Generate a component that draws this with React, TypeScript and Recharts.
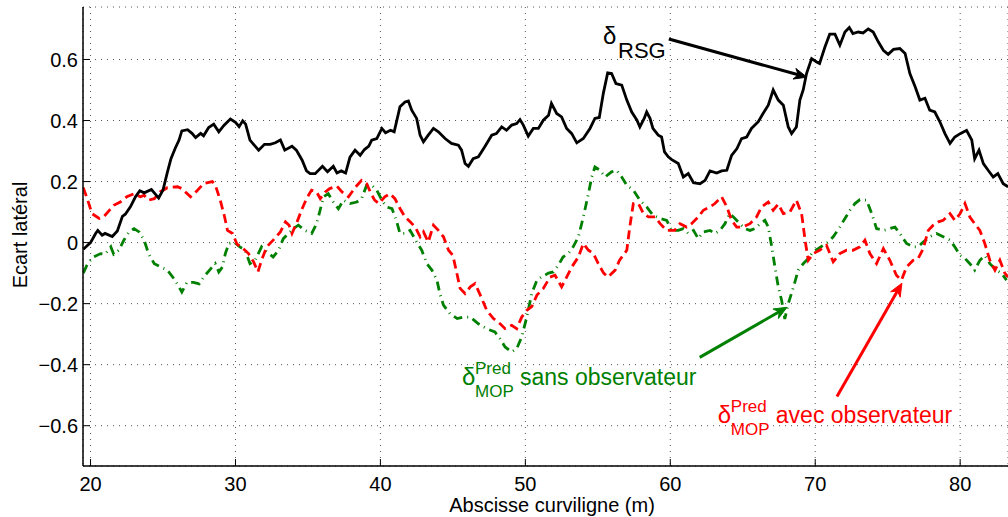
import React from "react";
import {
  LineChart,
  Line,
  XAxis,
  YAxis,
  CartesianGrid,
  ReferenceLine,
  ReferenceDot,
} from "recharts";

// abscisse curviligne (m), écart latéral (m)
const rsg: [number, number][] = [
  [19.5, -0.022], [20.0, 0.0], [20.35, 0.03], [20.5, 0.04], [20.8, 0.024], [21.0, 0.03],
  [21.5, 0.02], [21.85, 0.038], [22.2, 0.086], [22.4, 0.093], [22.75, 0.117], [23.1, 0.15],
  [23.4, 0.17], [23.7, 0.163], [24.2, 0.174], [24.4, 0.163], [24.7, 0.146], [25.0, 0.172],
  [25.3, 0.23], [25.55, 0.275], [25.85, 0.31], [26.1, 0.335], [26.3, 0.366], [26.7, 0.37],
  [27.0, 0.358], [27.25, 0.344], [27.6, 0.358], [27.8, 0.35], [28.15, 0.377], [28.5, 0.388],
  [28.85, 0.363], [29.2, 0.384], [29.65, 0.405], [30.0, 0.394], [30.25, 0.38], [30.5, 0.399],
  [30.7, 0.388], [31.0, 0.336], [31.25, 0.322], [31.6, 0.303], [32.0, 0.322], [32.4, 0.322],
  [32.75, 0.327], [33.1, 0.336], [33.4, 0.303], [33.9, 0.316], [34.2, 0.303], [34.6, 0.27],
  [34.9, 0.235], [35.15, 0.226], [35.5, 0.226], [36.0, 0.25], [36.35, 0.232], [36.75, 0.25],
  [37.0, 0.228], [37.3, 0.235], [37.6, 0.228], [37.9, 0.28], [38.25, 0.303], [38.6, 0.286],
  [38.9, 0.305], [39.2, 0.316], [39.4, 0.336], [39.75, 0.341], [40.1, 0.374], [40.35, 0.36],
  [40.7, 0.368], [40.95, 0.363], [41.35, 0.445], [41.7, 0.461], [41.93, 0.464], [42.16, 0.434],
  [42.5, 0.407], [42.74, 0.352], [42.97, 0.33], [43.3, 0.352], [43.66, 0.374], [44.0, 0.363],
  [44.46, 0.341], [44.9, 0.325], [45.38, 0.319], [45.6, 0.303], [45.84, 0.259], [46.07, 0.25],
  [46.4, 0.275], [46.76, 0.281], [47.2, 0.314], [47.68, 0.352], [48.0, 0.357], [48.37, 0.379],
  [48.7, 0.368], [49.06, 0.385], [49.4, 0.39], [49.63, 0.403], [49.86, 0.385], [50.2, 0.349],
  [50.55, 0.374], [50.9, 0.374], [51.24, 0.401], [51.6, 0.417], [51.8, 0.456], [52.16, 0.423],
  [52.5, 0.412], [52.85, 0.374], [53.2, 0.357], [53.55, 0.327], [54.0, 0.341], [54.46, 0.374],
  [54.8, 0.407], [55.1, 0.41], [55.38, 0.489], [55.68, 0.556], [55.95, 0.554], [56.25, 0.521],
  [56.65, 0.516], [57.0, 0.467], [57.34, 0.428], [57.7, 0.401], [57.9, 0.379], [58.2, 0.407],
  [58.37, 0.428], [58.6, 0.407], [58.8, 0.374], [59.17, 0.352], [59.4, 0.346], [59.6, 0.297],
  [59.86, 0.281], [60.1, 0.272], [60.55, 0.259], [60.9, 0.215], [61.24, 0.226], [61.6, 0.196],
  [62.05, 0.193], [62.4, 0.204], [62.74, 0.235], [63.2, 0.228], [63.54, 0.235], [63.9, 0.237],
  [64.23, 0.286], [64.6, 0.308], [64.92, 0.341], [65.27, 0.346], [65.6, 0.374], [66.07, 0.396],
  [66.4, 0.423], [66.76, 0.45], [67.1, 0.5], [67.45, 0.467], [67.8, 0.45], [68.14, 0.379],
  [68.37, 0.357], [68.7, 0.379], [68.94, 0.467], [69.17, 0.5], [69.4, 0.554], [69.75, 0.603],
  [70.1, 0.592], [70.3, 0.587], [70.67, 0.641], [71.0, 0.683], [71.36, 0.683], [71.7, 0.647],
  [72.05, 0.69], [72.35, 0.705], [72.6, 0.685], [72.97, 0.69], [73.3, 0.687], [73.66, 0.7],
  [74.0, 0.69], [74.35, 0.658], [74.7, 0.63], [75.03, 0.617], [75.4, 0.633], [75.84, 0.636],
  [76.2, 0.62], [76.53, 0.554], [76.9, 0.51], [77.22, 0.467], [77.57, 0.473], [77.9, 0.434],
  [78.25, 0.428], [78.6, 0.396], [78.95, 0.357], [79.3, 0.325], [79.63, 0.346], [80.0, 0.357],
  [80.44, 0.368], [80.8, 0.336], [81.0, 0.275], [81.3, 0.303], [81.6, 0.259], [81.93, 0.237],
  [82.28, 0.215], [82.6, 0.226], [82.97, 0.193], [83.3, 0.183],
];

const avecObs: [number, number][] = [
  [19.5, 0.18], [19.8, 0.14], [20.1, 0.095], [20.6, 0.079], [20.9, 0.084], [21.25, 0.103],
  [21.6, 0.122], [22.05, 0.133], [22.5, 0.15], [23.0, 0.16], [23.45, 0.15], [23.7, 0.155],
  [24.0, 0.139], [24.4, 0.144], [24.8, 0.166], [25.3, 0.18], [26.0, 0.183], [26.3, 0.177],
  [26.9, 0.15], [27.35, 0.17], [27.8, 0.193], [28.4, 0.2], [28.6, 0.19], [28.95, 0.139],
  [29.25, 0.084], [29.45, 0.04], [29.8, 0.03], [30.1, -0.005], [30.4, -0.014], [30.9, -0.036],
  [31.25, -0.063], [31.55, -0.096], [31.8, -0.058], [32.15, -0.014], [32.6, 0.008], [33.1, 0.035],
  [33.45, 0.068], [33.7, 0.057], [33.9, 0.03], [34.25, 0.068], [34.6, 0.111], [34.9, 0.144],
  [35.25, 0.172], [35.6, 0.166], [35.85, 0.144], [36.2, 0.166], [36.5, 0.177], [37.0, 0.185],
  [37.35, 0.166], [37.8, 0.15], [38.25, 0.18], [38.7, 0.204], [39.05, 0.193], [39.3, 0.166],
  [39.6, 0.139], [39.9, 0.128], [40.3, 0.15], [40.67, 0.16], [41.0, 0.144], [41.36, 0.111],
  [41.7, 0.084], [42.05, 0.068], [42.4, 0.051], [42.74, 0.019], [42.97, 0.035], [43.3, 0.002],
  [43.66, 0.057], [44.0, 0.04], [44.35, 0.019], [44.7, -0.025], [45.0, -0.042], [45.27, -0.1],
  [45.5, -0.15], [45.84, -0.167], [46.2, -0.145], [46.53, -0.134], [46.9, -0.173], [47.34, -0.222],
  [47.8, -0.249], [48.26, -0.266], [48.6, -0.282], [49.06, -0.271], [49.4, -0.282], [49.75, -0.244],
  [50.1, -0.222], [50.44, -0.21], [50.8, -0.172], [51.24, -0.15], [51.7, -0.113], [52.05, -0.107],
  [52.5, -0.145], [52.85, -0.113], [53.2, -0.08], [53.66, -0.047], [54.0, -0.003], [54.35, -0.025],
  [54.7, -0.036], [55.03, -0.069], [55.4, -0.1], [55.7, -0.113], [56.2, -0.09], [56.5, -0.058],
  [57.0, -0.025], [57.2, 0.05], [57.45, 0.128], [57.8, 0.128], [58.15, 0.095], [58.5, 0.084],
  [58.95, 0.084], [59.3, 0.062], [59.75, 0.04], [60.3, 0.04], [60.67, 0.062], [61.13, 0.051],
  [61.47, 0.062], [61.93, 0.084], [62.28, 0.106], [62.74, 0.117], [63.08, 0.128], [63.54, 0.15],
  [63.9, 0.117], [64.23, 0.073], [64.58, 0.051], [65.0, 0.051], [65.5, 0.062], [65.95, 0.084],
  [66.3, 0.117], [66.76, 0.133], [67.1, 0.106], [67.45, 0.126], [67.8, 0.095], [68.25, 0.1],
  [68.7, 0.139], [69.06, 0.095], [69.3, 0.008], [69.52, -0.058], [69.86, -0.036], [70.3, -0.025],
  [70.78, -0.009], [71.24, -0.063], [71.7, -0.036], [72.16, -0.025], [72.6, -0.025], [73.08, -0.014],
  [73.43, 0.008], [73.77, -0.036], [74.23, -0.069], [74.7, -0.02], [75.15, -0.058], [75.6, -0.107],
  [75.95, -0.123], [76.3, -0.08], [76.76, -0.058], [77.1, -0.052], [77.45, -0.02], [77.8, 0.04],
  [78.14, 0.057], [78.5, 0.068], [78.83, 0.073], [79.3, 0.095], [79.63, 0.073], [80.0, 0.095],
  [80.33, 0.128], [80.67, 0.084], [81.0, 0.062], [81.36, 0.04], [81.7, -0.003], [82.05, -0.058],
  [82.4, -0.09], [82.74, -0.058], [83.08, -0.1], [83.3, -0.113],
];

const sansObs: [number, number][] = [
  [19.5, -0.1], [19.8, -0.069], [20.2, -0.047], [20.7, -0.036], [21.0, -0.038], [21.4, -0.014],
  [21.6, -0.038], [21.95, -0.025], [22.3, 0.008], [22.65, 0.035], [23.0, 0.046], [23.35, 0.035],
  [23.7, 0.008], [24.0, -0.036], [24.4, -0.069], [24.85, -0.08], [25.3, -0.09], [25.75, -0.118],
  [26.1, -0.145], [26.3, -0.162], [26.65, -0.13], [27.1, -0.13], [27.5, -0.135], [27.8, -0.113],
  [28.3, -0.085], [28.6, -0.069], [28.85, -0.096], [29.1, -0.08], [29.3, -0.036], [29.55, -0.003],
  [29.9, 0.002], [30.3, -0.014], [30.67, -0.025], [31.0, -0.069], [31.35, -0.058], [31.8, -0.014],
  [32.3, -0.036], [32.6, -0.047], [32.97, -0.025], [33.3, 0.013], [33.66, 0.03], [34.0, 0.046],
  [34.34, 0.057], [34.8, 0.04], [35.26, 0.03], [35.6, 0.062], [35.84, 0.106], [36.07, 0.15],
  [36.4, 0.16], [36.76, 0.133], [37.1, 0.111], [37.45, 0.139], [37.9, 0.128], [38.37, 0.133],
  [38.7, 0.144], [39.05, 0.188], [39.4, 0.188], [39.75, 0.172], [40.1, 0.139], [40.43, 0.117],
  [40.8, 0.111], [41.1, 0.073], [41.35, 0.03], [41.7, 0.03], [42.05, 0.04], [42.5, 0.002],
  [42.85, -0.025], [43.2, -0.069], [43.55, -0.09], [43.9, -0.123], [44.1, -0.167], [44.35, -0.205],
  [44.8, -0.233], [45.3, -0.249], [45.7, -0.244], [46.2, -0.244], [46.76, -0.266], [47.33, -0.282],
  [47.9, -0.293], [48.25, -0.315], [48.6, -0.342], [49.06, -0.358], [49.4, -0.348], [49.75, -0.309],
  [50.1, -0.244], [50.44, -0.167], [50.8, -0.123], [51.1, -0.113], [51.6, -0.1], [51.93, -0.096],
  [52.28, -0.074], [52.6, -0.047], [52.97, -0.036], [53.3, -0.014], [53.66, 0.019], [54.0, 0.084],
  [54.35, 0.16], [54.58, 0.215], [54.8, 0.248], [55.15, 0.237], [55.5, 0.215], [55.95, 0.232],
  [56.3, 0.237], [56.65, 0.215], [57.0, 0.188], [57.45, 0.172], [57.9, 0.139], [58.37, 0.117],
  [58.8, 0.09], [59.3, 0.079], [59.75, 0.073], [60.1, 0.04], [60.55, 0.04], [60.9, 0.046],
  [61.24, 0.03], [61.6, 0.04], [61.93, 0.013], [62.28, 0.035], [62.74, 0.04], [63.08, 0.03],
  [63.43, 0.04], [63.77, 0.062], [64.1, 0.095], [64.46, 0.079], [64.8, 0.062], [65.15, 0.046],
  [65.5, 0.04], [65.84, 0.046], [66.2, 0.062], [66.53, 0.073], [66.76, 0.051], [67.0, -0.014],
  [67.22, -0.08], [67.45, -0.145], [67.68, -0.189], [67.9, -0.25], [68.14, -0.2], [68.5, -0.145],
  [68.83, -0.09], [69.17, -0.069], [69.52, -0.052], [69.86, -0.03], [70.2, -0.02], [70.55, -0.009],
  [70.9, 0.002], [71.24, 0.019], [71.7, 0.051], [72.05, 0.079], [72.4, 0.106], [72.74, 0.128],
  [73.08, 0.141], [73.54, 0.139], [73.9, 0.095], [74.23, 0.046], [74.7, 0.04], [75.15, 0.046],
  [75.5, 0.051], [75.84, 0.03], [76.3, -0.003], [76.76, -0.014], [77.1, -0.014], [77.45, 0.002],
  [77.9, 0.019], [78.37, 0.03], [78.83, 0.019], [79.3, 0.008], [79.63, -0.014], [80.0, -0.042],
  [80.33, -0.052], [80.67, -0.069], [81.0, -0.09], [81.36, -0.058], [81.7, -0.042], [82.05, -0.069],
  [82.5, -0.09], [82.85, -0.1], [83.2, -0.123],
];

const xTicks = [20, 30, 40, 50, 60, 70, 80];
const yTicks = [-0.6, -0.4, -0.2, 0, 0.2, 0.4, 0.6];

// arrows: from text to curve, in data units
const arrows = [
  { from: [59.9, 0.667], to: [69.43, 0.542], color: "#000000" },
  { from: [62.03, -0.376], to: [68.05, -0.212], color: "#008000" },
  { from: [71.5, -0.504], to: [75.98, -0.133], color: "#ff0000" },
];

const FONT = "'Liberation Sans', Arial, Helvetica, sans-serif";

const toRows = (pts: [number, number][]) => pts.map(([x, y]) => ({ x, y }));

const fmtY = (v: number) => (v === 0 ? "0" : v.toFixed(1).replace("-", "\u2212"));

const Arrow = (props: any) => {
  const { x1, y1, x2, y2, stroke } = props;
  const ang = Math.atan2(y2 - y1, x2 - x1);
  const len = 13;
  const half = 5.5;
  const bx = x2 - len * Math.cos(ang);
  const by = y2 - len * Math.sin(ang);
  const nx = -Math.sin(ang);
  const ny = Math.cos(ang);
  const notchX = x2 - (len - 4) * Math.cos(ang);
  const notchY = y2 - (len - 4) * Math.sin(ang);
  const head = [
    [x2, y2],
    [bx + nx * half, by + ny * half],
    [notchX, notchY],
    [bx - nx * half, by - ny * half],
  ]
    .map((p) => p.join(","))
    .join(" ");
  return (
    <g>
      <line x1={x1} y1={y1} x2={notchX} y2={notchY} stroke={stroke} strokeWidth={3} />
      <polygon points={head} fill={stroke} stroke={stroke} strokeWidth={1} />
    </g>
  );
};

const RsgLabel = ({ cx, cy }: any) => (
  <g fontFamily={FONT} fill="#000">
    <text x={cx} y={cy} fontSize={24}>δ</text>
    <text x={cx + 15} y={cy + 14} fontSize={22}>RSG</text>
  </g>
);

const MopLabel = ({ cx, cy, color, tail }: any) => (
  <g fontFamily={FONT} fill={color}>
    <text x={cx} y={cy} fontSize={24}>δ</text>
    <text x={cx + 13} y={cy - 11} fontSize={17}>Pred</text>
    <text x={cx + 13} y={cy + 12} fontSize={17}>MOP</text>
    <text x={cx + 58} y={cy} fontSize={23}>{tail}</text>
  </g>
);

const App = () => {
  return (
    <div style={{ position: "absolute", left: 0, top: 0, width: 1008, height: 517, background: "#fff" }}>
      <LineChart width={1008} height={517} margin={{ top: 7, right: 0, bottom: 0, left: 0 }}>
        <CartesianGrid stroke="#555" strokeDasharray="1 5" strokeWidth={1} />
        <XAxis
          dataKey="x"
          type="number"
          domain={[19.48, 83.3]}
          ticks={xTicks}
          interval={0}
          allowDataOverflow
          height={51}
          tickSize={-7}
          tickMargin={18}
          axisLine={{ stroke: "#000", strokeWidth: 1.5 }}
          tickLine={{ stroke: "#000", strokeWidth: 1 }}
          tick={{ fill: "#000", fontSize: 20, fontFamily: FONT }}
          label={{
            content: () => (
              <text x={552} y={512} textAnchor="middle" fontSize={20} fontFamily={FONT} fill="#000">
                Abscisse curviligne (m)
              </text>
            ),
          }}
        />
        <XAxis
          xAxisId="top"
          orientation="top"
          type="number"
          domain={[19.48, 83.3]}
          ticks={xTicks}
          interval={0}
          allowDataOverflow
          height={0}
          tickSize={-7}
          tick={false}
          axisLine={{ stroke: "#000", strokeWidth: 1.5 }}
          tickLine={{ stroke: "#000", strokeWidth: 1 }}
        />
        <YAxis
          type="number"
          domain={[-0.732, 0.772]}
          ticks={yTicks}
          interval={0}
          allowDataOverflow
          width={83}
          tickSize={-7}
          tickMargin={12}
          tickFormatter={fmtY}
          axisLine={{ stroke: "#000", strokeWidth: 1.5 }}
          tickLine={{ stroke: "#000", strokeWidth: 1 }}
          tick={{ fill: "#000", fontSize: 20, fontFamily: FONT }}
          label={{
            content: () => (
              <text
                x={20}
                y={235}
                transform="rotate(-90 20 235)"
                textAnchor="middle"
                dominantBaseline="central"
                fontSize={20}
                fontFamily={FONT}
                fill="#000"
              >
                Ecart latéral
              </text>
            ),
          }}
        />
        <Line
          data={toRows(sansObs)}
          dataKey="y"
          type="linear"
          stroke="#008000"
          strokeWidth={2.8}
          strokeDasharray="9 5 1 5"
          dot={false}
          isAnimationActive={false}
        />
        <Line
          data={toRows(avecObs)}
          dataKey="y"
          type="linear"
          stroke="#ff0000"
          strokeWidth={2.8}
          strokeDasharray="9 5"
          dot={false}
          isAnimationActive={false}
        />
        <Line
          data={toRows(rsg)}
          dataKey="y"
          type="linear"
          stroke="#000000"
          strokeWidth={2.8}
          dot={false}
          isAnimationActive={false}
        />
        {arrows.map((a, i) => (
          <ReferenceLine
            key={i}
            segment={[
              { x: a.from[0], y: a.from[1] },
              { x: a.to[0], y: a.to[1] },
            ]}
            stroke={a.color}
            ifOverflow="visible"
            shape={(p: any) => <Arrow {...p} stroke={a.color} />}
          />
        ))}
        <ReferenceDot x={55.36} y={0.65} r={0} ifOverflow="visible" shape={(p: any) => <RsgLabel {...p} />} />
        <ReferenceDot
          x={45.63}
          y={-0.468}
          r={0}
          ifOverflow="visible"
          shape={(p: any) => <MopLabel {...p} color="#008000" tail="sans observateur" />}
        />
        <ReferenceDot
          x={63.28}
          y={-0.592}
          r={0}
          ifOverflow="visible"
          shape={(p: any) => <MopLabel {...p} color="#ff0000" tail="avec observateur" />}
        />
      </LineChart>
    </div>
  );
};

export default App;
